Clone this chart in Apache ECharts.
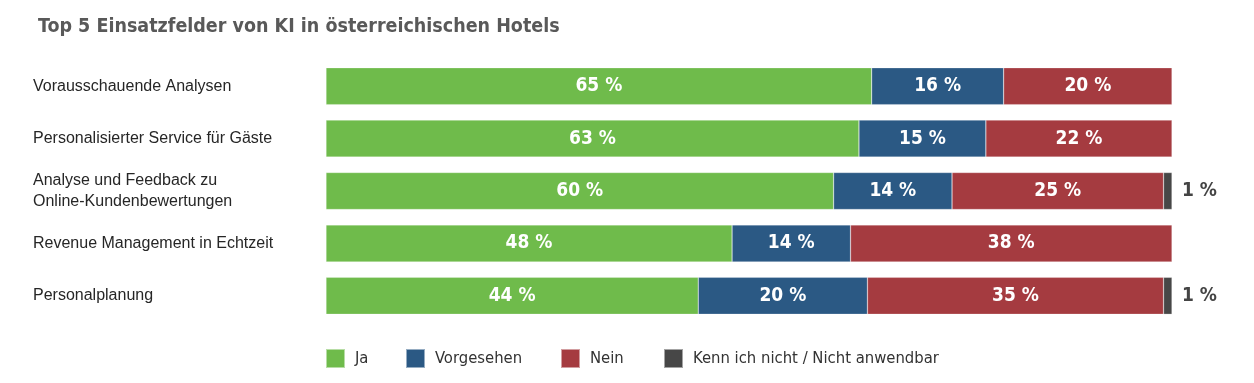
<!DOCTYPE html>
<html><head><meta charset="utf-8">
<script src="https://cdn.jsdelivr.net/npm/echarts@6/dist/echarts.min.js"></script>
<style>html,body{margin:0;padding:0;background:#fff}#c{width:1254px;height:383px}</style>
</head><body><div id="c"></div>
<script>
const title = 'Top 5 Einsatzfelder von KI in österreichischen Hotels';
const categories = [
  'Vorausschauende Analysen',
  'Personalisierter Service für Gäste',
  'Analyse und Feedback zu\nOnline-Kundenbewertungen',
  'Revenue Management in Echtzeit',
  'Personalplanung'
];
const seriesNames = ['Ja', 'Vorgesehen', 'Nein', 'Kenn ich nicht / Nicht anwendbar'];
const ja = [64.5, 63, 60, 48, 44];
const vorgesehen = [15.6, 15, 14, 14, 20];
const nein = [19.9, 22, 25, 38, 35];
const kenn = [null, null, 1, null, 1];
const colors = ['#6fbb4b', '#2b5984', '#a53b40', '#474747'];

const narrow = '"Liberation Sans Narrow","DejaVu Sans Condensed",sans-serif';
const inside = {
  show: true, position: 'inside', color: '#fff', fontFamily: narrow,
  fontWeight: 'bold', fontSize: 19,
  formatter: p => Math.round(p.value) + ' %'
};
const data = [ja, vorgesehen, nein, kenn];
const series = data.map((d, i) => ({
  name: seriesNames[i], type: 'bar', stack: 'all', data: d,
  barWidth: 37,
  itemStyle: { color: colors[i], borderColor: 'rgba(255,255,255,0.5)', borderWidth: 0.5 },
  label: i < 3 ? inside : {
    show: true, position: 'right', distance: 10, color: '#444', fontFamily: narrow,
    fontWeight: 'bold', fontSize: 19, formatter: p => Math.round(p.value) + ' %'
  },
  emphasis: { disabled: true }
}));

const legendLefts = [325, 405, 560, 663];
const legends = seriesNames.map((n, i) => ({
  left: legendLefts[i], top: 348, padding: 0, itemWidth: 19, itemHeight: 19,
  icon: 'rect', selectedMode: false,
  textStyle: { fontFamily: narrow, fontSize: 16.5, color: '#333', padding: [0, 0, 0, 5] },
  data: [n]
}));

const chart = echarts.init(document.getElementById('c'));
chart.setOption({
  animation: false,
  title: {
    text: title, left: 33, top: 12,
    textStyle: { fontFamily: narrow, fontWeight: 'bold', fontSize: 19.5, color: '#595959' }
  },
  legend: legends,
  grid: { left: 326, right: 82, top: 60, bottom: 61 },
  xAxis: { type: 'value', min: 0, max: 100, show: false },
  yAxis: {
    type: 'category', data: categories, inverse: true,
    axisLine: { show: false }, axisTick: { show: false },
    axisLabel: {
      align: 'left', margin: 293, fontFamily: '"Liberation Sans",Arial,sans-serif',
      fontSize: 16, color: '#262626', lineHeight: 21
    }
  },
  series
});
</script></body></html>
